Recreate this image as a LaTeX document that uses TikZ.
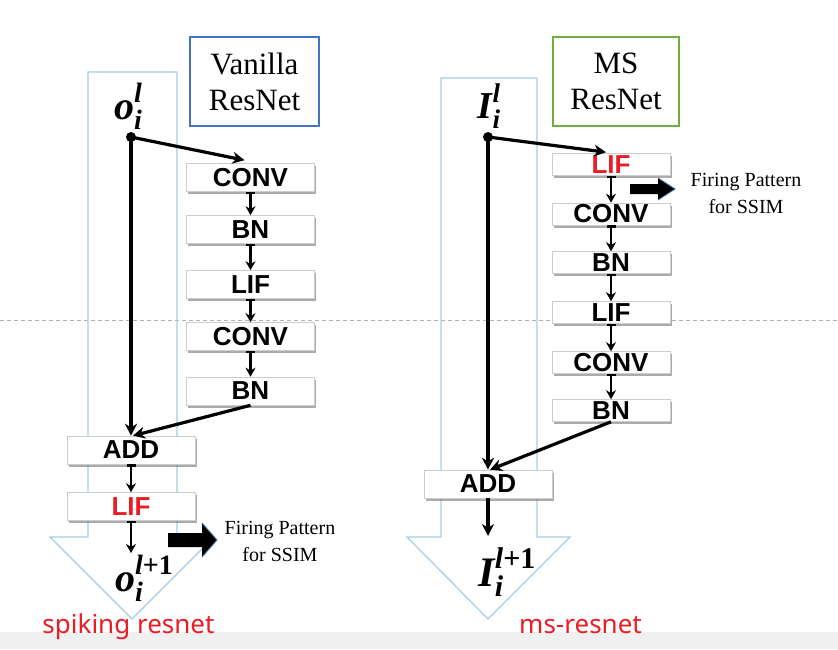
\documentclass[tikz,border=0pt]{standalone}
\usepackage{fontspec}
\newfontfamily\lsans{Liberation Sans}
\newfontfamily\lserif{Liberation Serif}
\newfontfamily\nsans{Noto Sans}
\usetikzlibrary{shadows,arrows.meta,calc}
\definecolor{flowc}{RGB}{165,205,232}
\definecolor{vblue}{RGB}{68,114,196}
\definecolor{msgreen}{RGB}{112,173,71}
\definecolor{lred}{RGB}{236,28,36}
\definecolor{stripg}{RGB}{240,240,240}
\definecolor{fireblue}{RGB}{65,113,156}
% #1 base size, #2 script size, #3 base letter, #4 subscript, #5 superscript
\newcommand{\scrlbl}[5]{{\fontsize{#1}{#1}\selectfont #3}{\fontsize{#2}{#2}\selectfont\makebox[0pt][l]{\raisebox{-0.36em}{#4}}\raisebox{0.6em}{#5}}}
\begin{document}
\begin{tikzpicture}[x=1pt,y=-1pt,
  blk/.style={draw={rgb,255:red,205;green,205;blue,205}, line width=0.6pt, fill=white,
    inner sep=0pt, font=\lsans\bfseries\fontsize{26}{26}\selectfont,
    drop shadow={shadow xshift=1.5pt, shadow yshift=-2.5pt, fill=black!55, opacity=0.6}},
  lblk/.style={blk, minimum width=128pt, minimum height=28pt},
  rblk/.style={blk, minimum width=118pt, minimum height=22pt},
  titlebox/.style={line width=2.4pt, fill=white, inner sep=0pt, align=center,
    font=\lserif\fontsize{31}{36}\selectfont},
  flow/.style={draw=flowc, line width=1.2pt},
  main/.style={line width=3.2pt, -{Stealth[length=12pt,width=12pt]}},
  small/.style={line width=2.6pt, {Bar[width=9pt,line width=2.6pt]}-{Stealth[length=9pt,width=10pt]}},
  firetxt/.style={font=\lserif\fontsize{20}{27}\selectfont, align=center},
  redlbl/.style={font=\nsans\fontsize{26}{26}\selectfont, text=lred, anchor=base},
  mathlbl/.style={inner sep=0pt, font=\lserif\bfseries\itshape}
]
\useasboundingbox (0,0) rectangle (838,649);
\fill[white] (0,0) rectangle (838,649);
\fill[stripg] (0,632) rectangle (838,649);
\draw[gray!60, line width=0.8pt, dash pattern=on 4pt off 3pt] (0,320) -- (838,320);

% big flow arrows
\draw[flow] (88,72) -- (177,72) -- (177,537) -- (214,537) -- (132,619) -- (50,537) -- (88,537) -- cycle;
\draw[flow] (441,78) -- (537,78) -- (537,537) -- (570,537) -- (488,619) -- (407,537) -- (441,537) -- cycle;

% title boxes
\node[titlebox, draw=vblue, minimum width=129pt, minimum height=89pt] (vt) at (254.5,81.5) {Vanilla\\ResNet};
\node[titlebox, draw=msgreen, minimum width=126pt, minimum height=89pt] (mt) at (616,81.5) {MS\\ResNet};

% ---------- left: spiking resnet ----------
\node[mathlbl] (oL) at (128,106) {\scrlbl{40}{28}{o}{i}{l}};
\coordinate (dotL) at (131,137);
\node[lblk] (convA) at (250.5,177.5) {CONV};
\node[lblk] (bnA) at (250.5,229.5) {BN};
\node[lblk] (lifA) at (250.5,284.5) {LIF};
\node[lblk] (convB) at (250.5,336.5) {CONV};
\node[lblk] (bnB) at (250.5,391) {BN};
\node[lblk] (addL) at (131,450) {ADD};
\node[lblk, text=lred] (lifL) at (131,506.5) {LIF};
\node[mathlbl] (oL1) at (144,578) {\scrlbl{40}{28}{o}{i}{l{\upshape +1}}};
\coordinate (endL) at (131,553);

\draw[main] (dotL) -- ($(convA.north)+(-6,-3)$);
\draw[main] (dotL) -- (addL.north);
\draw[main] (bnB.south) -- ($(addL.north)+(2,0)$);
\draw[small] (convA.south) -- (bnA.north);
\draw[small] (bnA.south) -- (lifA.north);
\draw[small] (lifA.south) -- (convB.north);
\draw[small] (convB.south) -- (bnB.north);
\draw[small] (addL.south) -- (lifL.north);
\draw[small] (lifL.south) -- (endL);
\fill (dotL) circle (5pt);

% firing arrow left
\fill (168,533) -- (202,533) -- (202,523) -- (217,540) -- (202,557) -- (202,547) -- (168,547) -- cycle;
\draw[fireblue, line width=0.9pt] (202,523) -- (217,540) -- (202,557);
\node[firetxt] (fpL) at (280,541.5) {Firing Pattern\\for SSIM};
\node[redlbl] (spk) at (128.5,633) {spiking resnet};

% ---------- right: ms-resnet ----------
\node[mathlbl] (IL) at (489,106) {\scrlbl{38}{27}{I}{i}{l}};
\coordinate (dotR) at (488,137);
\node[rblk, text=lred] (lifR1) at (611,164.5) {LIF};
\node[rblk] (convR1) at (611,214) {CONV};
\node[rblk] (bnR1) at (611,262.5) {BN};
\node[rblk] (lifR2) at (611,312.5) {LIF};
\node[rblk] (convR2) at (611,362.5) {CONV};
\node[rblk] (bnR2) at (611,410.5) {BN};
\node[lblk] (addR) at (488,484) {ADD};
\node[mathlbl] (IL1) at (507,572) {\scrlbl{42}{30}{I}{i}{l{\upshape +1}}};
\coordinate (endR) at (488,536);

\draw[main] (dotR) -- ($(lifR1.north)+(-5,-1)$);
\draw[main] (dotR) -- (addR.north);
\draw[main] (bnR2.south) -- ($(addR.north)+(2,0)$);
\draw[small] (lifR1.south) -- (convR1.north);
\draw[small] (convR1.south) -- (bnR1.north);
\draw[small] (bnR1.south) -- (lifR2.north);
\draw[small] (lifR2.south) -- (convR2.north);
\draw[small] (convR2.south) -- (bnR2.north);
\draw[main] (addR.south) -- (endR);
\fill (dotR) circle (5pt);

% firing arrow right
\fill (630,184) -- (658,184) -- (658,178) -- (675,189) -- (658,200) -- (658,194) -- (630,194) -- cycle;
\draw[fireblue, line width=0.9pt] (658,178) -- (675,189) -- (658,200);
\node[firetxt] (fpR) at (746,193) {Firing Pattern\\for SSIM};
\node[redlbl] (msr) at (580.5,633) {ms-resnet};
\end{tikzpicture}
\end{document}
